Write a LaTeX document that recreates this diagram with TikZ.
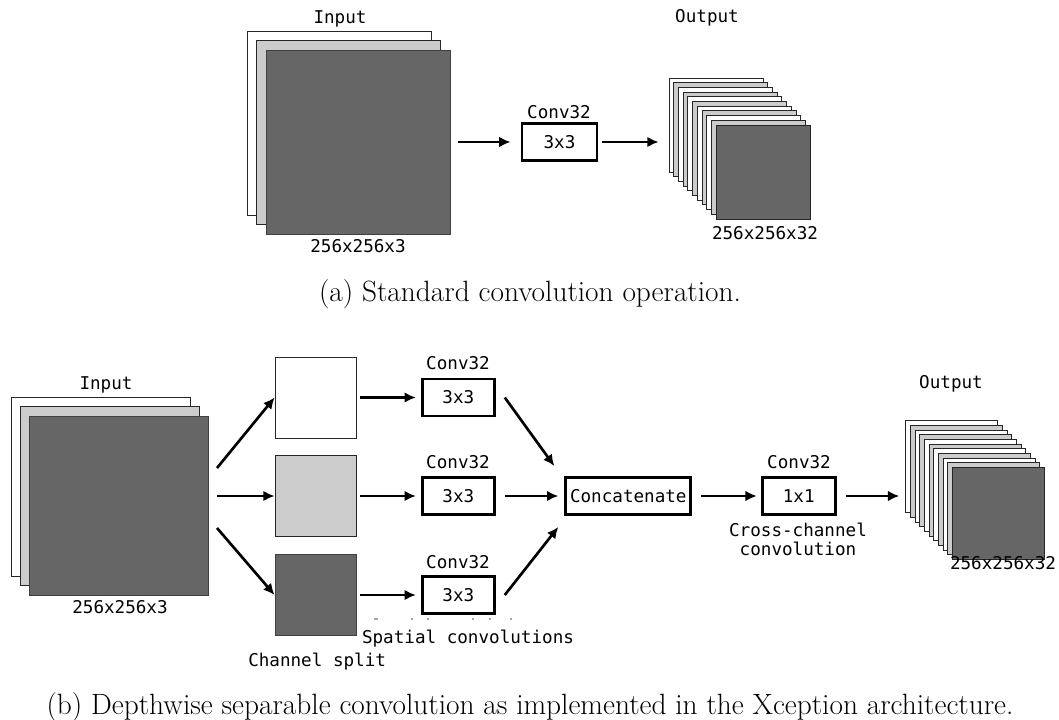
\documentclass[tikz,border=0pt]{standalone}
\usepackage{fontspec}
\setmonofont{DejaVu Sans Mono}
\usetikzlibrary{arrows.meta}
\definecolor{darkfill}{HTML}{666666}
\definecolor{lightfill}{HTML}{CCCCCC}
\tikzset{
  sheet/.style={draw=black!85, line width=0.6pt, inner sep=0pt,
    minimum width=#1*0.75pt, minimum height=#1*0.75pt},
  wsheet/.style={sheet=#1, fill=white},
  gsheet/.style={sheet=#1, fill=lightfill},
  dsheet/.style={sheet=#1, fill=darkfill, draw=black!75},
  mono/.style={font=\ttfamily\fontsize{13.2}{15}\selectfont, inner sep=0pt},
  opbox/.style={draw, line width=2.2pt, inner sep=0pt, mono,
    minimum width=#1*0.75pt, minimum height=37*0.75pt},
  arr/.style={-{Latex[length=8.5pt,width=8pt]}, line width=2pt},
  captiontext/.style={font=\fontsize{22}{26}\selectfont, inner sep=0pt, anchor=base},
  faint/.style={draw=black!35, line width=0.8pt}
}
\begin{document}
\begin{tikzpicture}[x=0.75pt,y=-0.75pt]
\useasboundingbox (0,0) rectangle (1059,720);

% ---------- (a) standard convolution ----------
\node[wsheet=184] (in1) at (339,123) {};
\node[gsheet=184] (in2) at (348.5,132.5) {};
\node[dsheet=184] (in3) at (358,142) {};
\node[mono] (inlbl) at (340,19) {Input};
\node[mono] (insz) at (358,246) {256x256x3};

\node[opbox=75] (c1) at (559.5,142) {3x3};
\node[mono] (c1lbl) at (559,112) {Conv32};

\foreach \i/\c in {0/white,1/lightfill,2/white,3/lightfill,4/white,5/lightfill,
                   6/white,7/lightfill,8/white,9/lightfill,10/darkfill}
  \node[sheet=94, fill=\c] (o\i) at ({716+4.7*\i},{125+4.7*\i}) {};
\node[mono] (outlbl) at (707,18) {Output};
\node[mono] (outsz) at (765,233) {256x256x32};

\draw[arr, shorten <=6pt, shorten >=7.5pt] (in3.east) -- (c1.west);
\draw[arr, shorten <=2.5pt, shorten >=7.5pt] (c1.east) -- (c1.east -| o0.west);

\node[captiontext] (capa) at (530,301) {(a) Standard convolution operation.};

% ---------- (b) depthwise separable convolution ----------
\node[wsheet=179] (b1) at (100.5,487) {};
\node[gsheet=179] (b2) at (109.5,496) {};
\node[dsheet=179] (b3) at (118.5,505.5) {};
\node[mono] (binlbl) at (106,385) {Input};
\node[mono] (binsz) at (120,607) {256x256x3};

% channel split
\node[wsheet=81] (s1) at (315.5,397.5) {};
\node[gsheet=81] (s2) at (315.5,496) {};
\node[dsheet=81] (s3) at (315.5,595) {};
\node[mono, anchor=west] (splitlbl) at (248,662) {Channel split};

\coordinate (fk1) at (217,468);
\coordinate (fk2) at (217,496);
\coordinate (fk3) at (217,528);
\draw[arr] (fk1) -- (s1.west);
\draw[arr] (fk2) -- (s2.west);
\draw[arr] (fk3) -- (s3.west);

% spatial convolutions
\node[opbox=72] (d1) at (458.3,397.5) {3x3};
\node[opbox=72] (d2) at (458.3,496) {3x3};
\node[opbox=72] (d3) at (458.3,595) {3x3};
\node[mono] (d1lbl) at (458,363) {Conv32};
\node[mono] (d2lbl) at (458,462) {Conv32};
\node[mono] (d3lbl) at (458,562) {Conv32};
\node[mono] (spatlbl) at (468,638.5) {Spatial convolutions};
% faint specks left above the label
\draw[faint] (374,619) -- (378,619);
\foreach \x in {412,428,473,490,511}
  \draw[faint] (\x-0.8,619) -- (\x+0.8,619);

\foreach \k in {1,2,3}
  \draw[arr, shorten <=3pt, shorten >=3.75pt] (s\k.east) -- (d\k.west);

\node[opbox=125] (cat) at (628.3,496) {Concatenate};
\draw[arr] ([shift={(9,0)}]d1.east) -- ([shift={(-10,-10)}]cat.north west);
\draw[arr, shorten <=6.75pt, shorten >=4.5pt] (d2.east) -- (cat.west);
\draw[arr] ([shift={(9,0)}]d3.east) -- ([shift={(-6,11)}]cat.south west);

% cross-channel convolution
\node[opbox=73] (k) at (798.7,496) {1x1};
\node[mono] (klbl) at (799,462) {Conv32};
\node[mono] (kcap1) at (798,529.5) {Cross-channel};
\node[mono] (kcap2) at (798,548.5) {convolution};
\draw[arr, shorten <=6.75pt, shorten >=3pt] (cat.east) -- (k.west);

\foreach \i/\c in {0/white,1/lightfill,2/white,3/lightfill,4/white,5/lightfill,
                   6/white,7/lightfill,8/white,9/lightfill,10/darkfill}
  \node[sheet=92, fill=\c] (p\i) at ({951.7+4.67*\i},{466.7+4.67*\i}) {};
\node[mono] (boutlbl) at (951,384) {Output};
\node[mono] (boutsz) at (1003,563) {256x256x32};
\draw[arr, shorten <=6.75pt, shorten >=4.5pt] (k.east) -- (k.east -| p0.west);

\node[captiontext] (capb) at (530,714)
  {(b) Depthwise separable convolution as implemented in the Xception architecture.};
\end{tikzpicture}
\end{document}
